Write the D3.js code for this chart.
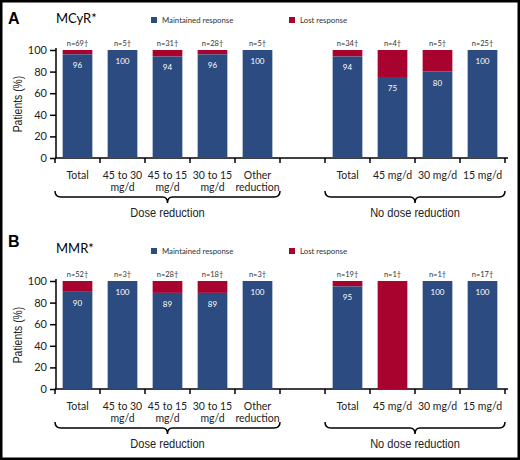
<!DOCTYPE html>
<html>
<head>
<meta charset="utf-8">
<script src="https://cdn.jsdelivr.net/npm/d3@7"></script>
<style>
  body { margin: 0; background: #fff; }
  svg { display: block; }
</style>
</head>
<body>
<svg id="chart" width="520" height="460"></svg>
<script>
// categories (index 5 is the empty gap between the two groups)
const categories = ["Total", "45 to 30\nmg/d", "45 to 15\nmg/d", "30 to 15\nmg/d", "Other\nreduction",
  "", "Total", "45 mg/d", "30 mg/d", "15 mg/d"];
const groups = [
  { label: "Dose reduction", from: 0, to: 4 },
  { label: "No dose reduction", from: 6, to: 9 }
];
const yTicks = [0, 20, 40, 60, 80, 100];

// % maintained response (lost = 100 - maintained)
const mcyrMaintained = [96, 100, 94, 96, 100, null, 94, 75, 80, 100];
const mcyrN = [69, 5, 31, 28, 5, null, 34, 4, 5, 25];
const mmrMaintained = [90, 100, 89, 89, 100, null, 95, 0, 100, 100];
const mmrN = [52, 3, 28, 18, 3, null, 19, 1, 1, 17];

const blue = "#2c4b80";
const red = "#a8022e";
const narrow = "'Liberation Sans', Arial, sans-serif"; // squeezed with scale() below
const sans = "Lato, 'Open Sans', sans-serif";

const svg = d3.select("#chart");

// outer frame
svg.append("rect")
  .attr("x", 1.25).attr("y", 1.25)
  .attr("width", 517.5).attr("height", 457.5)
  .attr("fill", "none").attr("stroke", "#000").attr("stroke-width", 2.5);

const x = d3.scaleBand()
  .domain(d3.range(categories.length))
  .range([55, 505])
  .paddingInner(0.34)
  .paddingOuter(0.17);

function drawPanel(dy, letter, letterY, title, titleY, maintained, ns) {
  const y = d3.scaleLinear().domain([0, 100]).range([158 + dy, 50 + dy]);
  const g = svg.append("g");

  g.append("text").attr("x", 8).attr("y", letterY)
    .attr("font-family", "'Liberation Sans', Arial, sans-serif")
    .attr("font-weight", "bold").attr("font-size", 16).text(letter);
  g.append("text").attr("x", 56).attr("y", titleY)
    .attr("font-family", sans).attr("font-size", 13).text(title);

  // legend
  const legend = [["Maintained response", blue, 151], ["Lost response", red, 289]];
  legend.forEach(([label, color, lx]) => {
    g.append("rect").attr("x", lx).attr("y", 17 + dy).attr("width", 6).attr("height", 6).attr("fill", color);
    g.append("text").attr("x", lx + 11).attr("y", 23 + dy)
      .attr("font-family", sans).attr("font-size", 7.8).attr("fill", "#333").text(label);
  });

  // y axis
  const yAxis = d3.axisLeft(y).tickValues(yTicks).tickSize(6).tickPadding(3);
  const yg = g.append("g").attr("transform", "translate(56,0)").call(yAxis);
  yg.select(".domain").attr("d", `M0,${y(0)}V${y(100) - 2}`).attr("stroke-width", 1.5);
  yg.selectAll("line").attr("stroke-width", 1.5);
  yg.selectAll("text").attr("font-family", sans).attr("font-size", 11).attr("fill", "#222");

  g.append("text")
    .attr("transform", `translate(22,${(y(0) + y(100)) / 2}) rotate(-90) scale(0.8,1)`)
    .attr("text-anchor", "middle")
    .attr("font-family", narrow).attr("font-size", 13).attr("fill", "#222")
    .text("Patients (%)");

  // x axis with ticks on band boundaries
  const step = x.step();
  const bounds = d3.range(categories.length + 1).map(i => x.range()[0] + i * step);
  g.append("line").attr("x1", 55).attr("x2", 508).attr("y1", y(0)).attr("y2", y(0))
    .attr("stroke", "#000").attr("stroke-width", 1.5);
  g.selectAll(".xtick").data(bounds).enter().append("line")
    .attr("x1", d => d).attr("x2", d => d)
    .attr("y1", y(0)).attr("y2", y(0) + 5)
    .attr("stroke", "#000").attr("stroke-width", 1.5);

  // category labels
  categories.forEach((c, i) => {
    if (!c) return;
    const t = g.append("text").attr("text-anchor", "middle")
      .attr("font-family", sans).attr("font-size", 10.5).attr("fill", "#222");
    c.split("\n").forEach((line, j) => {
      t.append("tspan").attr("x", x(i) + x.bandwidth() / 2).attr("y", y(0) + 21 + j * 12).text(line);
    });
  });

  const rows = maintained.map((m, i) => ({ i, m, n: ns[i] })).filter(d => d.m !== null);

  // lost response (top part)
  g.selectAll(".lost").data(rows).enter().append("rect")
    .attr("x", d => x(d.i)).attr("width", x.bandwidth())
    .attr("y", y(100)).attr("height", d => y(d.m) - y(100))
    .attr("fill", red);
  // maintained response
  g.selectAll(".kept").data(rows).enter().append("rect")
    .attr("x", d => x(d.i)).attr("width", x.bandwidth())
    .attr("y", d => y(d.m)).attr("height", d => y(0) - y(d.m))
    .attr("fill", blue);

  g.selectAll(".val").data(rows.filter(d => d.m > 0)).enter().append("text")
    .attr("x", d => x(d.i) + x.bandwidth() / 2).attr("y", d => y(d.m) + 14)
    .attr("text-anchor", "middle").attr("font-family", sans).attr("font-size", 8)
    .attr("fill", "#fff").text(d => d.m);

  g.selectAll(".n").data(rows).enter().append("text")
    .attr("x", d => x(d.i) + x.bandwidth() / 2).attr("y", y(100) - 4)
    .attr("text-anchor", "middle").attr("font-family", sans).attr("font-size", 7.5)
    .attr("fill", "#333").text(d => `n=${d.n}\u2020`);

  // group braces
  groups.forEach(gr => {
    const x0 = bounds[gr.from], x1 = bounds[gr.to + 1], xm = (x0 + x1) / 2;
    const top = y(0) + 33, ln = y(0) + 39, tip = y(0) + 45;
    const path = `M${x0},${top} Q${x0},${ln} ${x0 + 6},${ln} L${xm - 5},${ln} Q${xm},${ln} ${xm},${tip}` +
      ` Q${xm},${ln} ${xm + 5},${ln} L${x1 - 6},${ln} Q${x1},${ln} ${x1},${top}`;
    g.append("path").attr("d", path).attr("fill", "none")
      .attr("stroke", "#000").attr("stroke-width", 1.5);
    g.append("text")
      .attr("transform", `translate(${xm},${y(0) + 59}) scale(0.82,1)`)
      .attr("text-anchor", "middle")
      .attr("font-family", narrow).attr("font-size", 13.5).attr("fill", "#222").text(gr.label);
  });
}

drawPanel(0, "A", 24, "MCyR*", 23, mcyrMaintained, mcyrN);
drawPanel(231, "B", 247, "MMR*", 253, mmrMaintained, mmrN);
</script>
</body>
</html>
